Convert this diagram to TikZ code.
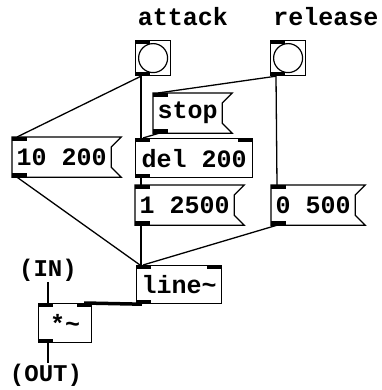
\documentclass[tikz,border=0pt]{standalone}
\usepackage{fontspec}
\setmonofont{Liberation Mono}
\usepackage{tikz}
\usetikzlibrary{calc}

\begin{document}
\begin{tikzpicture}[x=1pt, y=-1pt, line width=1.2pt,
    pdtext/.style={font=\ttfamily\bfseries\fontsize{25}{28}\selectfont, inner sep=0pt},
    pdobj/.style={pdtext, draw, anchor=north west, minimum height=39pt},
    pdmsg/.style={pdtext, anchor=north west, minimum height=39pt},
    pdbang/.style={draw, anchor=north west, minimum size=35pt, inner sep=0pt},
    cord/.style={line width=1.3pt},
    sigcord/.style={line width=3.5pt}]
    \useasboundingbox (0,0) rectangle (381,390);

    % labels
    \node [pdtext] (labattack) at (183,17) {attack};
    \node [pdtext] (labrelease) at (326,17) {release};
    \node [pdtext, font=\ttfamily\bfseries\fontsize{24}{27}\selectfont] (labin) at (48,270) {(IN)};
    \node [pdtext, font=\ttfamily\bfseries\fontsize{24}{27}\selectfont] (labout) at (46,375) {(OUT)};

    % bangs
    \node [pdbang] (bngatk) at (135,40) {};
    \node [pdbang] (bngrel) at (270,40) {};
    \draw (bngatk.center) circle (14.5pt);
    \draw (bngrel.center) circle (14.5pt);

    % messages and objects
    \node [pdmsg, minimum width=68pt] (stopmsg) at (153,93) {stop};
    \node [pdmsg, minimum width=98pt] (msgten) at (12,137) {10 200};
    \node [pdobj, minimum width=117pt] (delay) at (135,138) {del 200};
    \node [pdmsg, minimum width=98pt] (msgone) at (135,185) {1 2500};
    \node [pdmsg, minimum width=83pt] (msgzero) at (271,185) {0 500};
    \node [pdobj, minimum width=85pt, minimum height=38pt] (ramp) at (136,265) {line\textasciitilde};
    \node [pdobj, minimum width=53pt] (vca) at (38,303) {*\textasciitilde};

    % message flags
    \foreach \m in {stopmsg,msgten,msgone,msgzero}
        \draw (\m.north west) -- ($(\m.north east)+(10,0)$) -- ($(\m.north east)+(0,10)$)
            -- ($(\m.south east)+(0,-10)$) -- ($(\m.south east)+(10,0)$) -- (\m.south west) -- cycle;

    % inlets and outlets
    \foreach \n in {bngatk,bngrel,stopmsg,msgten,delay,msgone,msgzero,ramp,vca} {
        \fill (\n.north west) rectangle ++(15,4);
        \fill (\n.south west) rectangle ++(15,-4);
    }
    \foreach \n in {delay,ramp,vca}
        \fill (\n.north east) rectangle ++(-15,4);

    % connections
    \draw [cord] ([xshift=6pt]bngatk.south west) -- ([xshift=5pt]msgten.north west);
    \draw [cord] ([xshift=6pt]bngatk.south west) -- ([xshift=6pt]delay.north west);
    \draw [cord] ([xshift=6pt]bngrel.south west) -- ([xshift=5pt]stopmsg.north west);
    \draw [cord] ([xshift=6pt]bngrel.south west) -- ([xshift=6pt]msgzero.north west);
    \draw [cord] ([xshift=6pt]stopmsg.south west) -- ([xshift=8pt]delay.north west);
    \draw [cord] ([xshift=6pt]delay.south west) -- ([xshift=6pt]msgone.north west);
    \draw [cord] ([xshift=5pt]msgten.south west) -- ([xshift=4pt]ramp.north west);
    \draw [cord] ([xshift=6pt]msgone.south west) -- ([xshift=5pt]ramp.north west);
    \draw [cord] ([xshift=6pt]msgzero.south west) -- ([xshift=7pt]ramp.north west);
    \draw [sigcord] ([xshift=6pt]ramp.south west) -- ([xshift=-8pt]vca.north east);
    \draw [cord] (labin.south) -- (labin.south |- vca.north);
    \draw [cord] (vca.south -| labin.south) -- (labin.south |- labout.north);
\end{tikzpicture}
\end{document}
